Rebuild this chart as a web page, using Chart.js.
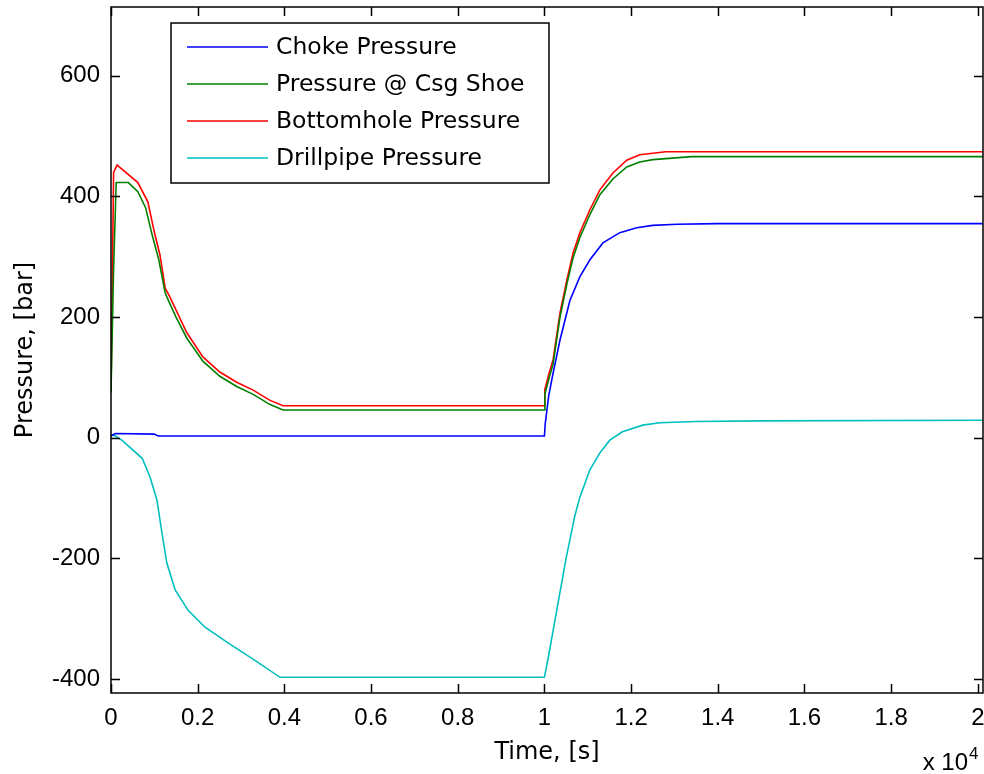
<!DOCTYPE html>
<html>
<head>
<meta charset="utf-8">
<script src="https://cdn.jsdelivr.net/npm/chart.js@4.4.1/dist/chart.umd.min.js"></script>
<style>
  body { margin: 0; background: #fff; }
  canvas { display: block; }
</style>
</head>
<body>
<canvas id="grafica" width="984" height="774"></canvas>
<script>
// tiempos en segundos, presiones en bar
const tChoke = [0, 100, 1000, 1050, 1100, 10000, 10020, 10100, 10200, 10360, 10590, 10820, 11050, 11350, 11740, 12130, 12500, 13060, 14000, 20120]
const pChoke = [3, 7, 6, 4, 3, 3, 24, 70, 107, 162, 228, 267, 295, 323, 340, 348, 352, 354, 355, 355]

const tShoe = [0, 60, 120, 400, 620, 800, 950, 1100, 1250, 1360, 1500, 1750, 2120, 2510, 2900, 3280, 3670, 3970, 10000, 10010, 10100, 10200, 10360, 10520, 10660, 10820, 11050, 11280, 11580, 11900, 12200, 12500, 13400, 20120]
const pShoe = [75, 280, 423, 423, 408, 381, 336, 296, 240, 222, 200, 165, 127, 102, 85, 72, 55, 46, 46, 72, 97, 122, 200, 255, 298, 332, 370, 403, 429, 449, 457, 461, 466, 466]

const tFondo = [0, 60, 140, 320, 620, 850, 1000, 1130, 1250, 1360, 1750, 2120, 2510, 2900, 3280, 3670, 3970, 10000, 10010, 10100, 10200, 10360, 10520, 10660, 10820, 11050, 11280, 11580, 11900, 12200, 12800, 20120]
const pFondo = [75, 440, 452, 441, 423, 391, 341, 303, 248, 233, 174, 134, 109, 92, 79, 62, 53, 53, 80, 105, 129, 207, 262, 306, 340, 378, 411, 439, 460, 469, 474, 474]

const tTuberia = [0, 100, 250, 720, 900, 1060, 1130, 1200, 1290, 1480, 1780, 2170, 2700, 3320, 3900, 4000, 10000, 10100, 10200, 10300, 10400, 10500, 10600, 10700, 10820, 11050, 11280, 11510, 11800, 12270, 12660, 13500, 15000, 20120]
const pTuberia = [5, 3, -4, -34, -65, -103, -136, -169, -208, -252, -286, -314, -340, -369, -397, -397, -397, -360, -320, -280, -240, -200, -165, -130, -98, -53, -25, -4, 10, 21, 25, 27, 28, 29]

const etiquetas = ["Choke Pressure", "Pressure @ Csg Shoe", "Bottomhole Pressure", "Drillpipe Pressure"]
const colores = ["#0000ff", "#008000", "#ff0000", "#00bfbf"]

const ticksX = [0, 2000, 4000, 6000, 8000, 10000, 12000, 14000, 16000, 18000, 20000]
const ticksY = [-400, -200, 0, 200, 400, 600]

const fuenteNum = "'Liberation Sans', Arial, sans-serif"
const fuenteTexto = "'DejaVu Sans', sans-serif"

function puntos(t, p) {
    return t.map((x, i) => ({ x: x, y: p[i] }))
}

// quitar el margen que Chart.js reserva para las etiquetas extremas
function sinRelleno(s) {
    s.paddingTop = 0
    s.paddingBottom = 0
    s.paddingLeft = 0
    s.paddingRight = 0
}

// caja de ejes con marcas hacia adentro, leyenda y factor x 10^4
const cajaEjes = {
    id: "cajaEjes",
    afterDatasetsDraw(chart) {
        const ctx = chart.ctx
        const a = chart.chartArea
        const sx = chart.scales.x
        const sy = chart.scales.y
        const largo = 9

        ctx.save()
        ctx.strokeStyle = "#000"
        ctx.lineWidth = 1.5
        ctx.strokeRect(a.left, a.top, a.right - a.left, a.bottom - a.top)

        ctx.beginPath()
        for (const v of ticksX) {
            const x = Math.round(sx.getPixelForValue(v)) + 0.5
            ctx.moveTo(x, a.bottom); ctx.lineTo(x, a.bottom - largo)
            ctx.moveTo(x, a.top); ctx.lineTo(x, a.top + largo)
        }
        for (const v of ticksY) {
            const y = Math.round(sy.getPixelForValue(v)) + 0.5
            ctx.moveTo(a.left, y); ctx.lineTo(a.left + largo, y)
            ctx.moveTo(a.right, y); ctx.lineTo(a.right - largo, y)
        }
        ctx.stroke()

        // leyenda
        const lx = 171, ly = 23, lw = 378, lh = 160
        ctx.fillStyle = "#fff"
        ctx.fillRect(lx, ly, lw, lh)
        ctx.lineWidth = 1.5
        ctx.strokeRect(lx, ly, lw, lh)
        ctx.font = "23.5px " + fuenteTexto
        ctx.textBaseline = "middle"
        ctx.textAlign = "left"
        chart.data.datasets.forEach((ds, i) => {
            const y = 47 + i * 37
            ctx.strokeStyle = ds.borderColor
            ctx.lineWidth = 1.5
            ctx.beginPath()
            ctx.moveTo(187, y); ctx.lineTo(268, y)
            ctx.stroke()
            ctx.fillStyle = "#000"
            ctx.fillText(ds.label, 276, y + 1)
        })

        // factor de escala del eje x
        ctx.fillStyle = "#000"
        ctx.textBaseline = "alphabetic"
        ctx.textAlign = "right"
        ctx.font = "24px " + fuenteNum
        ctx.fillText("x 10", 968, 770)
        ctx.textAlign = "left"
        ctx.font = "17px " + fuenteNum
        ctx.fillText("4", 969, 759)
        ctx.restore()
    }
}

const grafica = document.getElementById("grafica").getContext("2d")

new Chart(grafica, {
    type: "line",
    data: {
        datasets: [
            { label: etiquetas[0], data: puntos(tChoke, pChoke), borderColor: colores[0] },
            { label: etiquetas[1], data: puntos(tShoe, pShoe), borderColor: colores[1] },
            { label: etiquetas[2], data: puntos(tFondo, pFondo), borderColor: colores[2] },
            { label: etiquetas[3], data: puntos(tTuberia, pTuberia), borderColor: colores[3] },
        ]
    },
    options: {
        responsive: false,
        animation: false,
        events: [],
        elements: {
            point: { radius: 0 },
            line: { borderWidth: 1.6, tension: 0, fill: false }
        },
        layout: { padding: { top: 7, right: 1, left: 0, bottom: 0 } },
        plugins: {
            legend: { display: false },
            tooltip: { enabled: false }
        },
        scales: {
            x: {
                type: "linear",
                min: 0,
                max: 20120,
                afterBuildTicks: s => { s.ticks = ticksX.map(v => ({ value: v })) },
                afterFit: s => { s.height = 81; sinRelleno(s) },
                grid: { display: false, drawTicks: false },
                border: { display: false },
                ticks: {
                    color: "#000",
                    font: { family: fuenteNum, size: 24 },
                    padding: 11,
                    maxRotation: 0,
                    autoSkip: false,
                    callback: v => String(v / 10000)
                },
                title: {
                    display: true,
                    text: "Time, [s]",
                    color: "#000",
                    font: { family: fuenteTexto, size: 24 },
                    padding: { top: 0, bottom: 7 }
                }
            },
            y: {
                type: "linear",
                min: -423,
                max: 714,
                afterBuildTicks: s => { s.ticks = ticksY.map(v => ({ value: v })) },
                afterFit: s => { s.width = 111; sinRelleno(s) },
                grid: { display: false, drawTicks: false },
                border: { display: false },
                ticks: {
                    color: "#000",
                    font: { family: fuenteNum, size: 24 },
                    padding: 11
                },
                title: {
                    display: true,
                    text: "Pressure, [bar]",
                    color: "#000",
                    font: { family: fuenteTexto, size: 24 },
                    padding: { top: 11 }
                }
            }
        }
    },
    plugins: [cajaEjes]
})
</script>
</body>
</html>
